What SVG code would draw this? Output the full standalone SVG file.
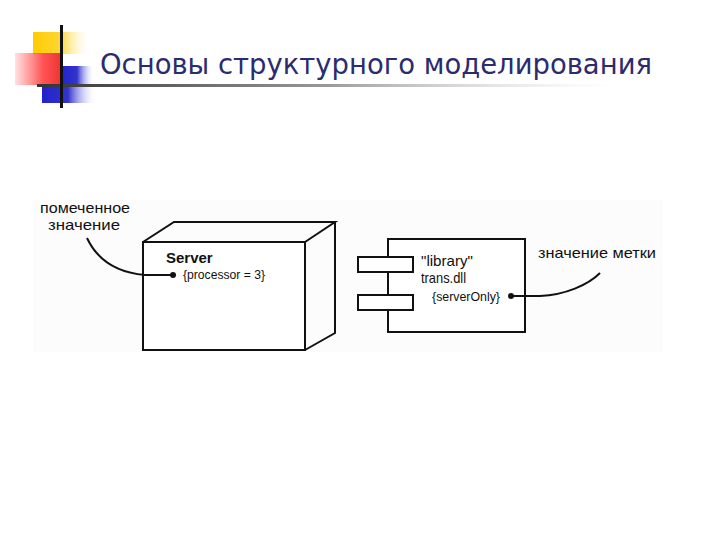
<svg xmlns="http://www.w3.org/2000/svg" width="720" height="540" viewBox="0 0 720 540">
<defs>
<linearGradient id="gy" x1="0" y1="0" x2="1" y2="0"><stop offset="0" stop-color="#ffcc00"/><stop offset="0.5" stop-color="#ffd633"/><stop offset="1" stop-color="#fff6cc" stop-opacity="0"/></linearGradient>
<linearGradient id="gr" x1="0" y1="0" x2="1" y2="0"><stop offset="0" stop-color="#ff6666" stop-opacity="0.2"/><stop offset="0.6" stop-color="#ff5555"/><stop offset="1" stop-color="#ee3333"/></linearGradient>
<linearGradient id="gb" x1="0" y1="0" x2="1" y2="0"><stop offset="0" stop-color="#2222cc"/><stop offset="0.5" stop-color="#3333cc"/><stop offset="1" stop-color="#ccccff" stop-opacity="0"/></linearGradient>
<linearGradient id="gl" x1="0" y1="0" x2="1" y2="0"><stop offset="0" stop-color="#333333"/><stop offset="0.5" stop-color="#999999"/><stop offset="1" stop-color="#dddddd" stop-opacity="0"/></linearGradient>
<style>
.ln{fill:none;stroke:#111;stroke-width:2}
.tx{font-family:"Liberation Sans",Arial,sans-serif;fill:#111}
</style>
</defs>
<rect width="720" height="540" fill="#fff"/>
<g id="logo">
<rect x="33" y="32" width="55" height="22" fill="url(#gy)"/>
<rect x="15" y="53" width="46" height="32" fill="url(#gr)"/>
<rect x="61" y="66" width="32" height="19" fill="url(#gb)"/>
<rect x="42" y="86" width="52" height="17" fill="url(#gb)"/>
<rect x="37" y="84" width="580" height="3" fill="url(#gl)"/>
<rect x="60" y="25" width="3" height="83" fill="#111"/>
</g>
<text id="title" x="100" y="74" font-family="DejaVu Sans,Verdana,sans-serif" font-size="28" fill="#2b2b70" textLength="552" lengthAdjust="spacingAndGlyphs">Основы структурного моделирования</text>
<rect x="33" y="200" width="630" height="152" fill="#fcfcfc"/>
<g id="server">
<rect x="143" y="242" width="162" height="108" fill="#fff" stroke="#111" stroke-width="2"/>
<path class="ln" d="M143,242 L174,222 L335,222 L305,242 M335,222 L335,333 L305,350"/>
<text class="tx" x="166" y="263" font-size="15" font-weight="bold">Server</text>
<text class="tx" x="183" y="279" font-size="12" textLength="82" lengthAdjust="spacingAndGlyphs">{processor = 3}</text>
</g>
<g id="component">
<rect x="388" y="239" width="137" height="93" fill="#fff" stroke="#111" stroke-width="2"/>
<rect x="358" y="257" width="55" height="15" fill="#fff" stroke="#111" stroke-width="2"/>
<rect x="358" y="295" width="55" height="15" fill="#fff" stroke="#111" stroke-width="2"/>
<text class="tx" x="421" y="266" font-size="15" textLength="52" lengthAdjust="spacingAndGlyphs">"library"</text>
<text class="tx" x="421" y="283" font-size="15" textLength="45" lengthAdjust="spacingAndGlyphs">trans.dll</text>
<text class="tx" x="432" y="301" font-size="12" textLength="68" lengthAdjust="spacingAndGlyphs">{serverOnly}</text>
</g>
<g id="label-left">
<text class="tx" x="40" y="213" font-size="15" textLength="90" lengthAdjust="spacingAndGlyphs">помеченное</text>
<text class="tx" x="48" y="230" font-size="15" textLength="72" lengthAdjust="spacingAndGlyphs">значение</text>
</g>
<g id="label-right">
<text class="tx" x="538" y="258" font-size="15" textLength="118" lengthAdjust="spacingAndGlyphs">значение метки</text>
</g>
<g id="connectors">
<path class="ln" d="M87,238 C95,255 110,272 145,275 L172,275"/>
<circle cx="173" cy="275" r="3" fill="#111"/>
<path class="ln" d="M511,296 L540,296 C565,295 588,285 600,273"/>
<circle cx="511" cy="296" r="3" fill="#111"/>
</g>
</svg>
